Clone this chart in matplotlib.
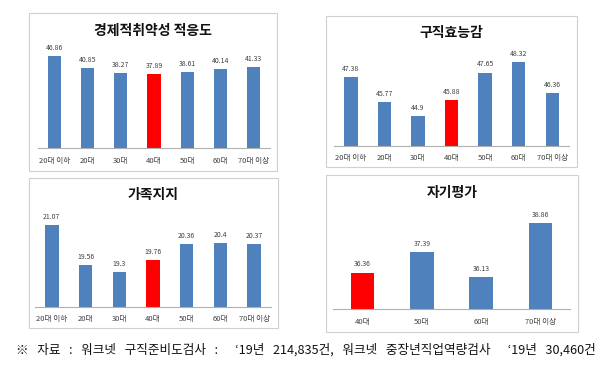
import matplotlib
matplotlib.use("Agg")
import matplotlib.pyplot as plt
from matplotlib.patches import Rectangle

plt.rcParams['font.family'] = ['Noto Sans CJK KR', 'DejaVu Sans']

cats7 = ['20대 이하', '20대', '30대', '40대', '50대', '60대', '70대 이상']
cats4 = ['40대', '50대', '60대', '70대 이상']

title1 = '경제적취약성 적응도'
vals1 = [46.86, 40.85, 38.27, 37.89, 38.61, 40.14, 41.33]
labels1 = ['46.86', '40.85', '38.27', '37.89', '38.61', '40.14', '41.33']

title2 = '구직효능감'
vals2 = [47.38, 45.77, 44.9, 45.88, 47.65, 48.32, 46.36]
labels2 = ['47.38', '45.77', '44.9', '45.88', '47.65', '48.32', '46.36']

title3 = '가족지지'
vals3 = [21.07, 19.56, 19.3, 19.76, 20.36, 20.4, 20.37]
labels3 = ['21.07', '19.56', '19.3', '19.76', '20.36', '20.4', '20.37']

title4 = '자기평가'
vals4 = [36.36, 37.39, 36.13, 38.86]
labels4 = ['36.36', '37.39', '36.13', '38.86']

highlight = '40대'
footer_parts = ['※', '자료', ':', '워크넷', '구직준비도검사', ':', '', '‘19년', '214,835건,',
                '워크넷', '중장년직업역량검사', '', '‘19년', '30,460건']
footer = '   '.join(footer_parts)

W, H = 600, 368
fig = plt.figure(figsize=(6, 3.68), dpi=100)
fig.patch.set_facecolor('white')

def fx(x):
    return x / W

def fy(y):
    return 1 - y / H

def frame(x0, y0, x1, y1):
    fig.patches.append(Rectangle((fx(x0), fy(y1)), fx(x1) - fx(x0), fy(y0) - fy(y1),
                                 transform=fig.transFigure, fill=False,
                                 edgecolor='#d0d0d0', linewidth=0.8))

def panel(cats, vals, labels, title, box, ax_px, ylim, title_y, bw=0.4):
    frame(*box)
    x0, ytop, x1, ybase = ax_px
    ax = fig.add_axes([fx(x0), fy(ybase), fx(x1) - fx(x0), fy(ytop) - fy(ybase)])
    colors = ['#FF0000' if c == highlight else '#4F81BD' for c in cats]
    xs = list(range(len(cats)))
    ax.bar(xs, vals, width=bw, color=colors, bottom=0)
    ax.set_ylim(*ylim)
    ax.set_xlim(-0.5, len(cats) - 0.5)
    for x, v, l in zip(xs, vals, labels):
        ax.annotate(l, (x, v), xytext=(0, 3), textcoords='offset points',
                    ha='center', va='bottom', fontsize=5, color='#404040')
    ax.set_xticks(xs)
    ax.set_xticklabels(cats, fontsize=5.5, color='#404040')
    ax.tick_params(axis='x', length=0, pad=6)
    ax.set_yticks([])
    for s in ['top', 'right', 'left']:
        ax.spines[s].set_visible(False)
    ax.spines['bottom'].set_color('#b0b0b0')
    ax.spines['bottom'].set_linewidth(0.8)
    ax.set_facecolor('none')
    cx = (box[0] + box[2]) / 2
    fig.text(fx(cx), fy(title_y), title, ha='center', va='center',
             fontsize=10, fontweight='bold', color='#111111')
    return ax

panel(cats7, vals1, labels1, title1, (29, 13, 277, 171), (38, 50, 270, 148.3), (0, 50), 31)
panel(cats7, vals2, labels2, title2, (326, 16, 577, 167), (334, 35.4, 569, 146), (43, 50), 33)
panel(cats7, vals3, labels3, title3, (29, 178, 278, 328), (35, 214, 271, 306.7), (18, 21.5), 195)
panel(cats4, vals4, labels4, title4, (326, 175, 578, 332), (333, 210.8, 570, 309.3), (34.5, 39.5), 193)

fig.text(fx(16), fy(350), footer, ha='left', va='center', fontsize=9.1, color='#111111')

fig.savefig('out.png', dpi=100, facecolor='white')
